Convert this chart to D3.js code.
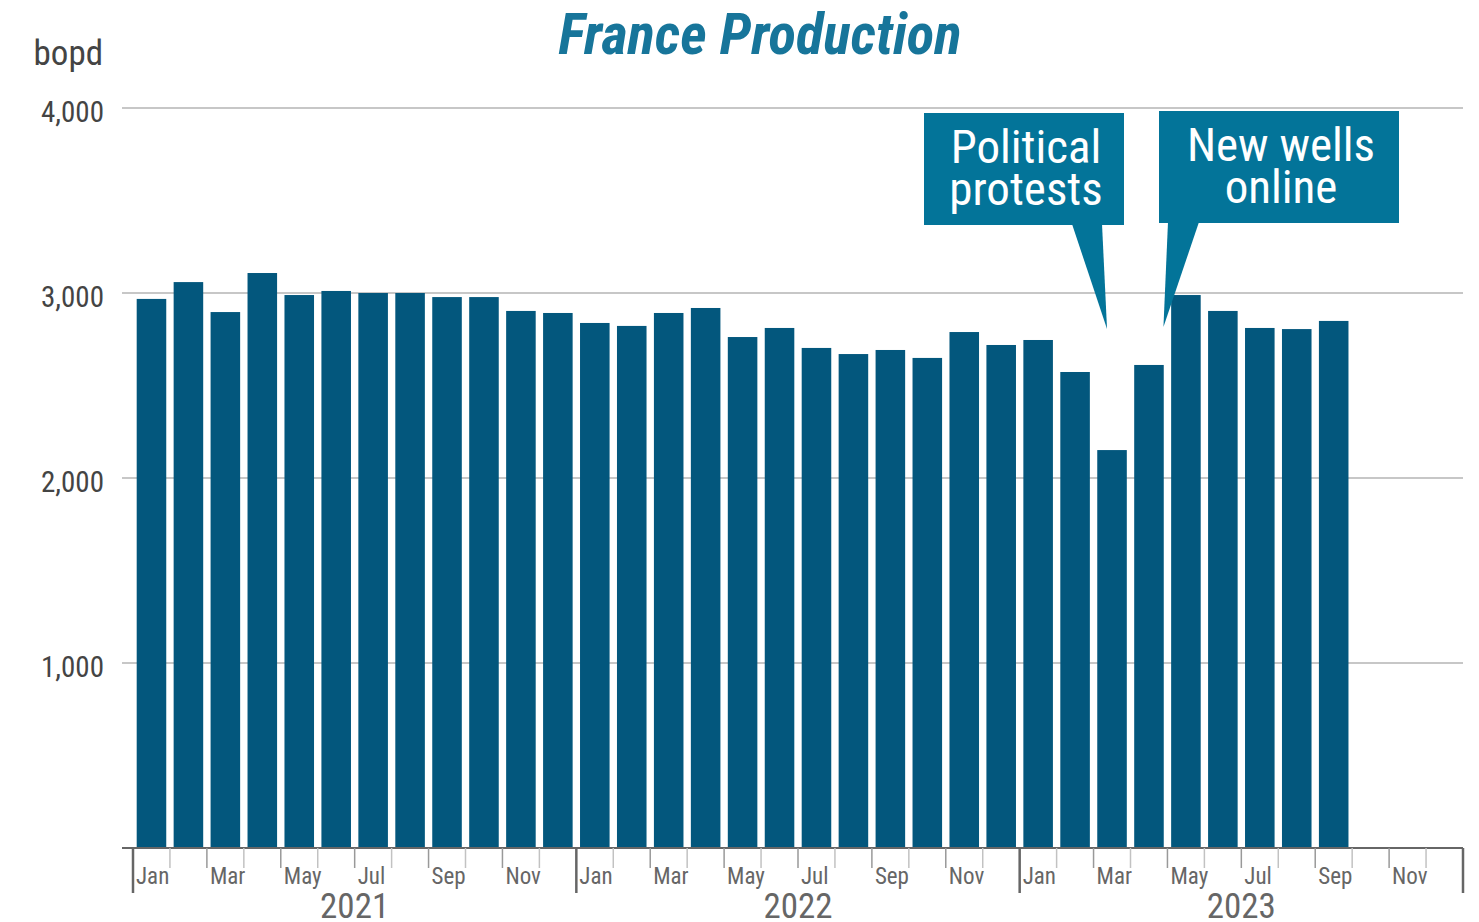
<!DOCTYPE html>
<html>
<head>
<meta charset="utf-8">
<script src="https://cdn.jsdelivr.net/npm/d3@7"></script>
<style>
  body { margin: 0; background: #fff; }
  svg text { font-family: "Roboto Condensed", "Liberation Sans Narrow", "DejaVu Sans Condensed", Roboto, sans-serif; font-stretch: condensed; }
</style>
</head>
<body>
<svg id="chart" width="1479" height="922"></svg>
<script>
// monthly production, Jan 2021 - Dec 2023 (bopd), null = no data yet
var years = [2021, 2022, 2023];
var monthNames = ["Jan","Feb","Mar","Apr","May","Jun","Jul","Aug","Sep","Oct","Nov","Dec"];
var prod2021 = [2968, 3059, 2897, 3108, 2989, 3011, 3000, 3000, 2978, 2978, 2903, 2892];
var prod2022 = [2838, 2822, 2892, 2919, 2762, 2811, 2703, 2670, 2692, 2649, 2789, 2719];
var prod2023 = [2746, 2573, 2151, 2611, 2989, 2903, 2811, 2805, 2849, null, null, null];
var yTicks = [1000, 2000, 3000, 4000];

var notes = [
  { lines: ["Political", "protests"], month: "2023-Mar" },
  { lines: ["New wells", "online"], month: "2023-May" }
];

var data = [];
[prod2021, prod2022, prod2023].forEach(function (arr, i) {
  arr.forEach(function (v, m) {
    data.push({ key: years[i] + "-" + monthNames[m], year: years[i], m: m, value: v });
  });
});

var svg = d3.select("#chart");
var plotLeft = 133, plotRight = 1463, plotTop = 108, plotBottom = 848;

var x = d3.scaleBand()
  .domain(data.map(function (d) { return d.key; }))
  .range([plotLeft, plotRight])
  .paddingInner(0.2)
  .paddingOuter(0.1);
var y = d3.scaleLinear().domain([0, 4000]).range([plotBottom, plotTop]);
var step = x.step();
function edge(d) { return x(d.key) - step * 0.1; }

// gridlines
svg.append("g").selectAll("line")
  .data(yTicks)
  .enter().append("line")
    .attr("x1", 122).attr("x2", plotRight)
    .attr("y1", function (d) { return y(d); })
    .attr("y2", function (d) { return y(d); })
    .attr("stroke", "#b5b5b5")
    .attr("stroke-width", 1.5);

// y labels
var yAxis = svg.append("g")
  .attr("transform", "translate(104,0)")
  .call(d3.axisLeft(y).tickValues(yTicks).tickFormat(d3.format(",")).tickSize(0).tickPadding(0));
yAxis.select(".domain").remove();
yAxis.selectAll("text")
  .attr("dy", "0.45em")
  .style("font-size", "29px")
  .style("font-family", null)
  .style("fill", "#444");

svg.append("text")
  .attr("x", 103).attr("y", 65)
  .attr("text-anchor", "end")
  .style("font-size", "35px")
  .style("fill", "#444")
  .text("bopd");

// bars
svg.append("g").selectAll("rect")
  .data(data.filter(function (d) { return d.value != null; }))
  .enter().append("rect")
    .attr("x", function (d) { return x(d.key); })
    .attr("width", x.bandwidth())
    .attr("y", function (d) { return y(d.value); })
    .attr("height", function (d) { return y(0) - y(d.value); })
    .attr("fill", "#03577d");

// x axis line and ticks
svg.append("line")
  .attr("x1", 122).attr("x2", plotRight)
  .attr("y1", plotBottom).attr("y2", plotBottom)
  .attr("stroke", "#666").attr("stroke-width", 2);

svg.append("g").selectAll("line")
  .data(data)
  .enter().append("line")
    .attr("x1", edge).attr("x2", edge)
    .attr("y1", plotBottom)
    .attr("y2", function (d) { return d.m == 0 ? 893 : 868; })
    .attr("stroke", function (d) { return d.m == 0 ? "#666" : (d.m % 2 == 0 ? "#999" : "#c2c2c2"); })
    .attr("stroke-width", function (d) { return d.m == 0 ? 2.5 : 1.5; });

svg.append("line")
  .attr("x1", plotRight).attr("x2", plotRight)
  .attr("y1", plotBottom).attr("y2", 893)
  .attr("stroke", "#666").attr("stroke-width", 2.5);

// month labels
svg.append("g").selectAll("text")
  .data(data.filter(function (d) { return d.m % 2 == 0; }))
  .enter().append("text")
    .attr("x", function (d) { return edge(d) + 3; })
    .attr("y", 884)
    .style("font-size", "23px")
    .style("fill", "#666")
    .text(function (d) { return monthNames[d.m]; });

// year labels
svg.append("g").selectAll("text")
  .data(years)
  .enter().append("text")
    .attr("x", function (yr) {
      return (edge({ key: yr + "-Jan" }) + edge({ key: yr + "-Dec" }) + step) / 2;
    })
    .attr("y", 918)
    .attr("text-anchor", "middle")
    .style("font-size", "35px")
    .style("fill", "#666")
    .text(function (d) { return d; });

// title
svg.append("text")
  .attr("x", 760).attr("y", 54)
  .attr("text-anchor", "middle")
  .style("font-size", "57px")
  .style("font-weight", "bold")
  .style("font-style", "italic")
  .style("fill", "#17759a")
  .text("France Production");

// callouts
var boxes = [
  { x0: 924, x1: 1124, y0: 113, y1: 225, b0: 1072, b1: 1102, tipY: 329 },
  { x0: 1159, x1: 1399, y0: 111, y1: 223, b0: 1168, b1: 1199, tipY: 327 }
];
notes.forEach(function (n, i) {
  var b = boxes[i];
  var tipX = i == 0 ? x(n.month) + x.bandwidth() / 2 - 5 : edge({ key: n.month }) - 4;
  var g = svg.append("g");
  g.append("path")
    .attr("d", "M" + b.b0 + "," + (b.y1 - 1) + "L" + tipX + "," + b.tipY + "L" + b.b1 + "," + (b.y1 - 1) + "Z")
    .attr("fill", "#037499");
  g.append("rect")
    .attr("x", b.x0).attr("y", b.y0)
    .attr("width", b.x1 - b.x0).attr("height", b.y1 - b.y0)
    .attr("fill", "#037499");
  g.selectAll("text")
    .data(n.lines)
    .enter().append("text")
      .attr("x", (b.x0 + b.x1) / 2 + 2)
      .attr("y", function (d, k) { return b.y0 + 50 + k * 42; })
      .attr("text-anchor", "middle")
      .style("font-size", "47px")
      .style("fill", "#fff")
      .text(function (d) { return d; });
});
</script>
</body>
</html>
